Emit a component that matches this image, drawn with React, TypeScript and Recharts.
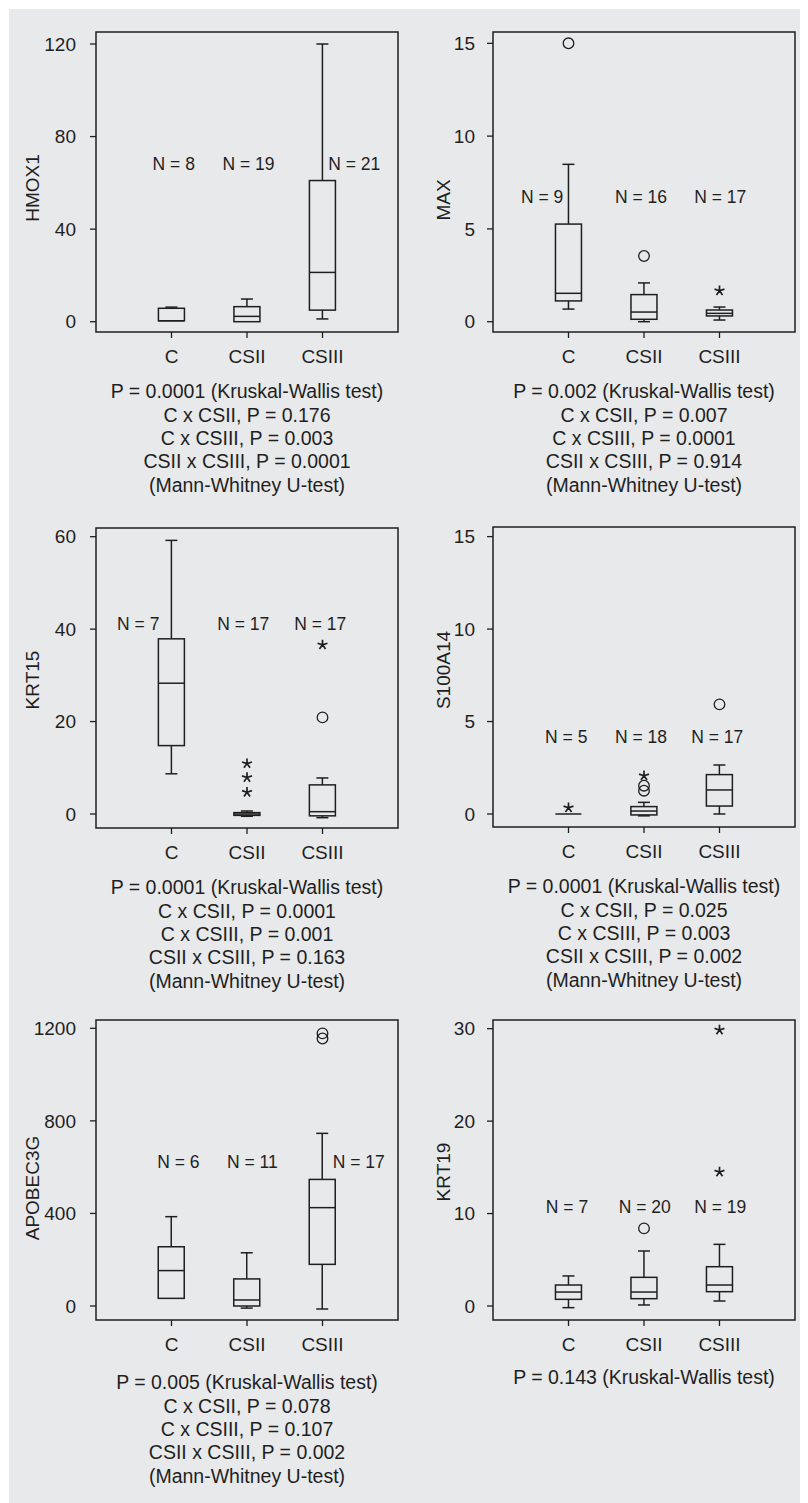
import React from 'react';
import { ComposedChart, Bar, Scatter, XAxis, YAxis, ReferenceArea } from 'recharts';

const FONT = '"Liberation Sans", Arial, Helvetica, sans-serif';
const INK = '#1f1f1f';
const BG = '#e8e9eb';

const groups = ['C', 'CSII', 'CSIII'];

// five-number summaries per group: [min, q1, median, q3, max]
const hmox1Box = [[0.4, 0.4, 0.4, 5.8, 6.3], [0, 0, 2.3, 6.5, 9.8], [1.2, 5.0, 21.3, 61, 120]];
const maxBox = [[0.68, 1.12, 1.53, 5.26, 8.48], [0, 0.13, 0.52, 1.46, 2.09], [0.09, 0.31, 0.45, 0.63, 0.79]];
const krt15Box = [[8.7, 14.8, 28.3, 37.9, 59.2], [-0.5, -0.3, 0, 0.3, 0.65], [-0.8, -0.4, 0.5, 6.3, 7.8]];
const s100a14Box = [[0, 0, 0, 0, 0], [-0.1, -0.05, 0.16, 0.4, 0.63], [0, 0.43, 1.3, 2.13, 2.65]];
const apobec3gBox = [[33, 33, 153, 256, 386], [-9, 0, 26, 117, 230], [-13, 180, 425, 547, 746]];
const krt19Box = [[-0.18, 0.72, 1.51, 2.27, 3.25], [0.11, 0.79, 1.51, 3.1, 5.95], [0.54, 1.55, 2.27, 4.25, 6.67]];

// sample sizes
const hmox1N = [8, 19, 21];
const maxN = [9, 16, 17];
const krt15N = [7, 17, 17];
const s100a14N = [5, 18, 17];
const apobec3gN = [6, 11, 17];
const krt19N = [7, 20, 19];

// outliers: [group index, value, kind] ('o' = outlier, '*' = extreme)
const hmox1Out: [number, number, string][] = [];
const maxOut: [number, number, string][] = [[0, 15.0, 'o'], [1, 3.54, 'o'], [2, 1.67, '*']];
const krt15Out: [number, number, string][] = [[1, 10.9, '*'], [1, 7.9, '*'], [1, 4.7, '*'], [2, 20.9, 'o'], [2, 36.6, '*']];
const s100a14Out: [number, number, string][] = [[0, 0.34, '*'], [1, 1.53, 'o'], [1, 1.26, 'o'], [1, 2.07, '*'], [2, 5.93, 'o']];
const apobec3gOut: [number, number, string][] = [[2, 1178, 'o'], [2, 1156, 'o']];
const krt19Out: [number, number, string][] = [[1, 8.4, 'o'], [2, 29.86, '*'], [2, 14.5, '*']];

// tick labels
const hmox1Ticks = [0, 40, 80, 120];
const maxTicks = [0, 5, 10, 15];
const krt15Ticks = [0, 20, 40, 60];
const s100a14Ticks = [0, 5, 10, 15];
const apobec3gTicks = [0, 400, 800, 1200];
const krt19Ticks = [0, 10, 20, 30];

// statistics text
const hmox1Text = ['P = 0.0001 (Kruskal-Wallis test)', 'C x CSII, P = 0.176', 'C x CSIII, P = 0.003', 'CSII x CSIII, P = 0.0001', '(Mann-Whitney U-test)'];
const maxText = ['P = 0.002 (Kruskal-Wallis test)', 'C x CSII, P = 0.007', 'C x CSIII, P = 0.0001', 'CSII x CSIII, P = 0.914', '(Mann-Whitney U-test)'];
const krt15Text = ['P = 0.0001 (Kruskal-Wallis test)', 'C x CSII, P = 0.0001', 'C x CSIII, P = 0.001', 'CSII x CSIII, P = 0.163', '(Mann-Whitney U-test)'];
const s100a14Text = ['P = 0.0001 (Kruskal-Wallis test)', 'C x CSII, P = 0.025', 'C x CSIII, P = 0.003', 'CSII x CSIII, P = 0.002', '(Mann-Whitney U-test)'];
const apobec3gText = ['P = 0.005 (Kruskal-Wallis test)', 'C x CSII, P = 0.078', 'C x CSIII, P = 0.107', 'CSII x CSIII, P = 0.002', '(Mann-Whitney U-test)'];
const krt19Text = ['P = 0.143 (Kruskal-Wallis test)'];

type Panel = {
  name: string;
  box: number[][];
  n: number[];
  out: [number, number, string][];
  ticks: number[];
  text: string[];
  domain: [number, number];
  col: number;
  frameTop: number;
  labelDist: number;
  labelDy: number;
  nX: number[];
  nY: number;
  textGap: number;
};

const panels: Panel[] = [
  { name: 'HMOX1', box: hmox1Box, n: hmox1N, out: hmox1Out, ticks: hmox1Ticks, text: hmox1Text, domain: [-4.45, 125.19], col: 0, frameTop: 32, labelDist: 63.5, labelDy: 6, nX: [1.03, 2.02, 3.42], nY: 68.1, textGap: 60 },
  { name: 'MAX', box: maxBox, n: maxN, out: maxOut, ticks: maxTicks, text: maxText, domain: [-0.555, 15.61], col: 1, frameTop: 32, labelDist: 49.5, labelDy: 18, nX: [0.65, 1.96, 3.01], nY: 6.7, textGap: 60 },
  { name: 'KRT15', box: krt15Box, n: krt15N, out: krt15Out, ticks: krt15Ticks, text: krt15Text, domain: [-3.03, 61.88], col: 0, frameTop: 528, labelDist: 63.5, labelDy: 2, nX: [0.56, 1.95, 2.97], nY: 41.1, textGap: 60 },
  { name: 'S100A14', box: s100a14Box, n: s100a14N, out: s100a14Out, ticks: s100a14Ticks, text: s100a14Text, domain: [-0.703, 15.52], col: 1, frameTop: 527, labelDist: 49.5, labelDy: -7, nX: [0.97, 1.96, 2.97], nY: 4.18, textGap: 60 },
  { name: 'APOBEC3G', box: apobec3gBox, n: apobec3gN, out: apobec3gOut, ticks: apobec3gTicks, text: apobec3gText, domain: [-60.5, 1235.9], col: 0, frameTop: 1020, labelDist: 64, labelDy: 18, nX: [1.09, 2.07, 3.48], nY: 623, textGap: 63 },
  { name: 'KRT19', box: krt19Box, n: krt19N, out: krt19Out, ticks: krt19Ticks, text: krt19Text, domain: [-1.515, 30.94], col: 1, frameTop: 1020, labelDist: 50, labelDy: 2, nX: [0.98, 2.01, 3.01], nY: 10.68, textGap: 58 },
];

const PLOT_W = 302;
const PLOT_H = 300;
const M_TOP = 20;
const X_H = 40;
const Y_W = 60;
const BOX_W = 26;

const BoxShape = (props: any) => {
  const { x, y, width, height, payload } = props;
  if (x == null || y == null || !payload) return null;
  const [mn, q1, md, q3, mx] = payload.stats as number[];
  const h = height || 0;
  const top = Math.min(y, y + h);
  const bottom = Math.max(y, y + h);
  const span = mx - mn;
  const py = (v: number) => (span === 0 ? bottom : bottom - ((bottom - top) * (v - mn)) / span);
  const cx = x + (width || 0) / 2;
  const half = BOX_W / 2;
  const cap = 6;
  const sw = 1.5;
  const yq1 = py(q1), yq3 = py(q3), ymd = py(md), ymn = py(mn), ymx = py(mx);
  return (
    <g stroke={INK} strokeWidth={sw} fill="none">
      {ymx < yq3 - 0.5 && <line x1={cx} x2={cx} y1={ymx} y2={yq3} />}
      {ymx < yq3 - 0.5 && <line x1={cx - cap} x2={cx + cap} y1={ymx} y2={ymx} />}
      {ymn > yq1 + 0.5 && <line x1={cx} x2={cx} y1={yq1} y2={ymn} />}
      {ymn > yq1 + 0.5 && <line x1={cx - cap} x2={cx + cap} y1={ymn} y2={ymn} />}
      <rect x={cx - half} y={yq3} width={BOX_W} height={Math.max(0, yq1 - yq3)} />
      <line x1={cx - half} x2={cx + half} y1={ymd} y2={ymd} />
    </g>
  );
};

const OutlierShape = (props: any) => {
  const { cx, cy, payload } = props;
  if (cx == null || cy == null) return null;
  if (payload.kind === 'o') {
    return <circle cx={cx} cy={cy} r={5.3} fill="none" stroke={INK} strokeWidth={1.3} />;
  }
  const r = 5.2;
  const d = [-90, -18, 54, 126, 198]
    .map((a) => {
      const t = (a * Math.PI) / 180;
      return `M${cx},${cy}L${cx + r * Math.cos(t)},${cy + r * Math.sin(t)}`;
    })
    .join('');
  return <path d={d} stroke={INK} strokeWidth={1.7} fill="none" />;
};

const NLabelShape = (props: any) => {
  const { cx, cy, payload } = props;
  if (cx == null || cy == null) return null;
  return (
    <text x={cx} y={cy} textAnchor="middle" dominantBaseline="central" fontSize={17.5} fill={INK} fontFamily={FONT}>
      {payload.label}
    </text>
  );
};

const YLabel = (props: any) => {
  const { lx, ly, txt } = props;
  return (
    <text x={lx} y={ly} transform={`rotate(-90 ${lx} ${ly})`} textAnchor="middle" dominantBaseline="central" fontSize={19} fill={INK} fontFamily={FONT}>
      {txt}
    </text>
  );
};

const BoxPanel = ({ p }: { p: Panel }) => {
  const marginLeft = p.col === 0 ? 28 : 25;
  const chartLeft = p.col === 0 ? 0 : 400;
  const width = 400;
  const marginRight = width - marginLeft - Y_W - PLOT_W;
  const height = M_TOP + PLOT_H + X_H;
  const chartTop = p.frameTop - 8 - M_TOP;
  const data = groups.map((g, i) => ({ x: i + 1, name: g, stats: p.box[i], range: [p.box[i][0], p.box[i][4]] }));
  const outData = p.out.map(([gi, v, kind]) => ({ x: gi + 1, y: v, kind }));
  const nData = p.n.map((n, i) => ({ x: p.nX[i], y: p.nY, label: `N = ${n}` }));
  const plotLeft = marginLeft + Y_W;
  const frameCenterX = chartLeft + plotLeft + PLOT_W / 2;
  const frameBottom = chartTop + M_TOP + PLOT_H;
  const lineH = 23.3;
  return (
    <>
      <div style={{ position: 'absolute', left: chartLeft, top: chartTop }}>
        <ComposedChart width={width} height={height} data={data} margin={{ top: M_TOP, right: marginRight, bottom: 0, left: marginLeft }}>
          <XAxis
            type="number"
            dataKey="x"
            height={X_H}
            domain={[0, 4]}
            ticks={[1, 2, 3]}
            interval={0}
            allowDataOverflow
            tickFormatter={(v: number) => groups[v - 1] ?? ''}
            axisLine={false}
            tickLine={{ stroke: INK, strokeWidth: 1.3 }}
            tickSize={6}
            tickMargin={12}
            tick={{ fontSize: 19, fill: INK, fontFamily: FONT }}
          />
          <YAxis
            type="number"
            dataKey="y"
            width={Y_W}
            domain={p.domain}
            ticks={p.ticks}
            interval={0}
            allowDataOverflow
            axisLine={false}
            tickLine={{ stroke: INK, strokeWidth: 1.3 }}
            tickSize={6}
            tickMargin={p.col === 0 ? 14 : 12}
            tick={{ fontSize: 19, fill: INK, fontFamily: FONT }}
            label={<YLabel lx={plotLeft - p.labelDist} ly={M_TOP + PLOT_H / 2 + p.labelDy} txt={p.name} />}
          />
          <ReferenceArea x1={0} x2={4} y1={p.domain[0]} y2={p.domain[1]} fill="none" stroke={INK} strokeWidth={1.5} ifOverflow="visible" />
          <Bar dataKey="range" barSize={BOX_W} shape={<BoxShape />} isAnimationActive={false} />
          <Scatter data={outData} dataKey="y" shape={<OutlierShape />} isAnimationActive={false} />
          <Scatter data={nData} dataKey="y" shape={<NLabelShape />} isAnimationActive={false} />
        </ComposedChart>
      </div>
      <div
        style={{
          position: 'absolute',
          left: frameCenterX - 200,
          width: 400,
          top: frameBottom + p.textGap - lineH / 2,
          textAlign: 'center',
          fontFamily: FONT,
          fontSize: 19.5,
          lineHeight: `${lineH}px`,
          color: INK,
          whiteSpace: 'nowrap',
        }}
      >
        {p.text.map((t, i) => (
          <div key={i}>{t}</div>
        ))}
      </div>
    </>
  );
};

export default function App() {
  return (
    <div style={{ position: 'relative', width: 800, height: 1495, background: '#ffffff', overflow: 'hidden' }}>
      <div style={{ position: 'absolute', left: 1, top: 1, width: 799, height: 1494, background: BG }} />
      {panels.map((p) => (
        <BoxPanel key={p.name} p={p} />
      ))}
    </div>
  );
}
